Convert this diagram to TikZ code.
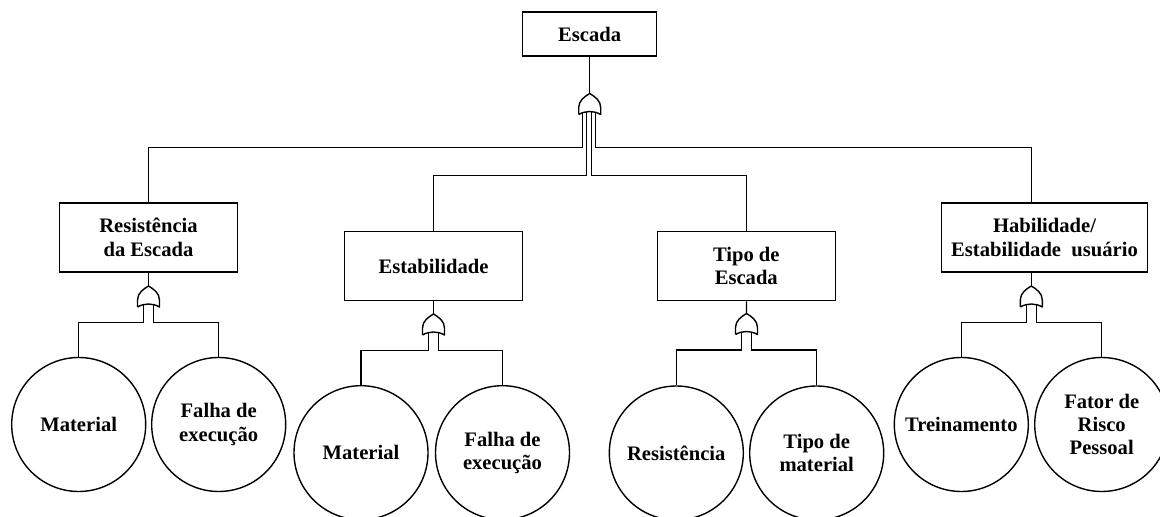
\documentclass[tikz,border=0pt]{standalone}
\usepackage{fontspec}
\setmainfont{Liberation Serif}
\usetikzlibrary{positioning,calc}
\tikzstyle{evento} = [rectangle, minimum width=89pt, minimum height=34.5pt, inner sep=0pt, text centered, align=center, draw=black]
\tikzstyle{basico} = [circle, minimum size=67pt, inner sep=0pt, text centered, align=center, draw=black]
\tikzset{porta/.pic={
	\draw[line join=round] (-11,21) -- (-11,14) .. controls (-11,7) and (-5,3) .. (0,0) .. controls (5,3) and (11,7) .. (11,14) -- (11,21) .. controls (4,17) and (-4,17) .. (-11,21);
	\coordinate (-topo) at (0,0);
	\coordinate (-a) at (-5,18.5);
	\coordinate (-b) at (5,18.5);
	\coordinate (-e1) at (-7,19);
	\coordinate (-e2) at (-3,18.2);
	\coordinate (-e3) at (2,18.2);
	\coordinate (-e4) at (6,19);
}}

\begin{document}
\begin{tikzpicture}[x=0.5pt,y=-0.5pt,line width=0.7pt,font=\fontsize{10.3}{11.7}\selectfont\bfseries]
	\useasboundingbox (0,0) rectangle (1160,517);
	\node (escada) at (589.7,34) [evento,minimum width=67pt,minimum height=22pt] {Escada};
	\node (resist) at (148.5,237.5) [evento] {Resistência\\da Escada};
	\node (estab) at (433.5,266.2) [evento] {Estabilidade};
	\node (tipo) at (746.3,266.2) [evento] {Tipo de\\Escada};
	\node (habil) at (1044.5,237.5) [evento,minimum width=103pt] {Habilidade/\\Estabilidade\hspace{0.5em}usuário};
	\pic (p0) at (589.7,93.5) {porta};
	\pic (p1) at (148.5,286) {porta};
	\pic (p2) at (433.5,314) {porta};
	\pic (p3) at (746.5,313.5) {porta};
	\pic (p4) at (1031.3,286) {porta};
	\node (b1) at (78.7,424.5) [basico] {Material};
	\node (b2) at (218.7,424.5) [basico] {Falha de\\execução};
	\node (b3) at (361,452.7) [basico] {Material};
	\node (b4) at (502.5,452.7) [basico] {Falha de\\execução};
	\node (b5) at (676.3,453) [basico] {Resistência};
	\node (b6) at (816.7,453) [basico] {Tipo de\\material};
	\node (b7) at (961.3,424.5) [basico] {Treinamento};
	\node (b8) at (1101.7,424.5) [basico] {Fator de\\Risco\\Pessoal};
	% topo
	\draw (escada) -- (p0-topo);
	\draw (p0-e1) -- ++(0,35) -| (resist);
	\draw (p0-e2) -- ++(0,64) -| (estab);
	\draw (p0-e3) -- ++(0,64) -| (tipo);
	\draw (p0-e4) -- ++(0,35) -| (habil.north -| p4-topo);
	% ramos
	\draw (resist) -- (p1-topo);
	\draw (estab) -- (p2-topo);
	\draw (tipo) -- (p3-topo);
	\draw (habil.south -| p4-topo) -- (p4-topo);
	\draw (p1-a) -- ++(0,18) -| (b1);
	\draw (p1-b) -- ++(0,18) -| (b2);
	\draw (p2-a) -- ++(0,18) -| (b3);
	\draw (p2-b) -- ++(0,18) -| (b4);
	\draw (p3-a) -- ++(0,18) -| (b5);
	\draw (p3-b) -- ++(0,18) -| (b6);
	\draw (p4-a) -- ++(0,18) -| (b7);
	\draw (p4-b) -- ++(0,18) -| (b8);
\end{tikzpicture}
\end{document}
